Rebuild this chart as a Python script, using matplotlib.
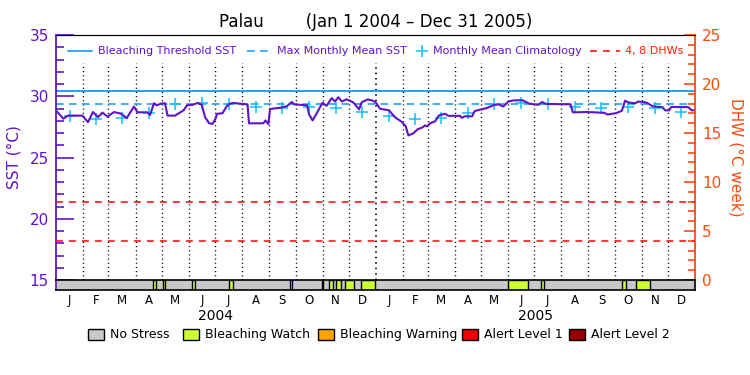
import matplotlib
matplotlib.use('Agg')
import matplotlib.pyplot as plt
import numpy as np
from matplotlib.ticker import MultipleLocator
from matplotlib.lines import Line2D
from matplotlib.patches import Rectangle

# ---------------- data ----------------
# SST trace: day offset from 2004-01-01, SST (deg C)
sst_day = [0.8, 8.4, 13.7, 30.3, 36.6, 42.3, 48.1, 53.2, 58.9, 66.4, 74.4, 80.9, 89.2, 93.2,
           104.7, 107.6, 112.1, 115.2, 120.1, 124.7, 127.6, 136.2, 145.9, 149.9, 156.2, 161.9,
           166.7, 170.5, 175.1, 179.1, 182.5, 184.2, 190.5, 195.3, 199.1, 202.9, 219.1, 220.8,
           237.2, 239.7, 242.9, 244.9, 256.3, 264.0, 269.7, 272.3, 287.2, 289.5, 293.5, 296.3,
           304.9, 309.5, 315.4, 319.2, 323.0, 326.9, 332.3, 335.2, 340.2, 346.7, 349.8, 356.4,
           362.1, 366.1, 370.7, 381.0, 387.9, 394.7, 399.9, 403.1, 408.8, 413.6, 419.3, 422.2,
           424.5, 427.9, 433.6, 438.2, 445.1, 448.9, 462.2, 464.2, 467.4, 476.0, 478.8, 481.7,
           487.1, 493.7, 500.3, 506.1, 511.8, 517.5, 524.0, 533.8, 541.2, 551.8, 556.1, 560.6,
           588.7, 591.2, 608.1, 627.0, 631.0, 640.7, 647.3, 651.0, 654.8, 662.5, 666.3, 674.0,
           676.9, 682.6, 694.0, 696.8, 701.4, 703.7, 719.7, 723.5, 727.3, 731.0]
sst_val = [28.77, 28.17, 28.42, 28.42, 27.89, 28.71, 28.30, 28.66, 28.34, 28.71, 28.58, 28.22,
           29.16, 28.69, 28.69, 28.47, 29.43, 29.26, 29.40, 29.43, 28.42, 28.42, 28.85, 29.26,
           29.30, 29.45, 29.30, 28.30, 27.79, 27.75, 28.17, 28.57, 28.61, 29.18, 29.40, 29.45,
           29.34, 27.79, 27.79, 28.03, 27.73, 28.96, 29.06, 29.18, 29.53, 29.34, 29.26, 28.52,
           28.03, 28.36, 29.47, 29.22, 29.85, 29.57, 29.92, 29.57, 29.75, 29.67, 29.49, 28.93,
           29.51, 29.74, 29.65, 29.47, 28.98, 28.85, 28.28, 27.95, 27.58, 26.80, 26.97, 27.30,
           27.46, 27.62, 27.54, 27.79, 27.95, 28.44, 28.57, 28.40, 28.40, 28.24, 28.36, 28.36,
           28.77, 28.85, 28.93, 29.06, 29.26, 29.34, 29.16, 29.57, 29.67, 29.67, 29.40, 29.30,
           29.53, 29.37, 29.34, 28.69, 28.71, 28.65, 28.51, 28.62, 28.81, 29.64, 29.49, 29.43,
           29.57, 29.51, 29.43, 29.18, 29.10, 28.85, 28.85, 29.12, 29.12, 29.10, 28.85, 28.85]

# monthly mean climatology (Jan..Dec)
clim_vals = [28.36, 28.11, 28.24, 28.66, 29.34, 29.43, 29.34, 29.10, 29.06, 29.14, 29.02, 28.71]
threshold_sst = 30.45
mmm_sst = 29.4
dhw_levels = [4, 8]

month_labels = ['J', 'F', 'M', 'A', 'M', 'J', 'J', 'A', 'S', 'O', 'N', 'D']
years = ['2004', '2005']

# Bleaching watch periods (day offsets)
watch_start = [111, 122, 156, 198, 268, 304, 312, 320, 331, 349, 517, 555, 648, 663]
watch_end = [114, 125, 159, 202, 270, 306, 317, 326, 341, 365, 540, 558, 652, 680]

stress_labels = ['No Stress', 'Bleaching Watch', 'Bleaching Warning', 'Alert Level 1', 'Alert Level 2']
stress_colors = ['#c8c8c8', '#ccff33', '#ffa500', '#ee0000', '#990000']

# ---------------- styles ----------------
PURPLE = '#5f14c8'
ORANGE = '#ff4a10'
THR_C = '#0a9aff'
CLIM_C = '#10c0ff'

month_starts = (np.arange('2004-01', '2006-02', dtype='datetime64[M]').astype('datetime64[D]')
                - np.datetime64('2004-01-01')).astype(int)
month_mid = (month_starts[:-1] + month_starts[1:]) / 2.0
total_days = month_starts[-1]

fig = plt.figure(figsize=(7.5, 3.75), dpi=100)
W, H = 750.0, 375.0
L, R, T, B = 56, 695, 35, 280
ax = fig.add_axes([L / W, 1 - B / H, (R - L) / W, (B - T) / H])
ax.set_xlim(0, total_days)
ax.set_ylim(15, 35)

# dotted month separators
for d in month_starts[1:-1]:
    lw = 1.3 if d == 366 else 1.0
    ax.plot([d, d], [15, 32.7], color='black', lw=lw, ls=(0, (0.8, 2.2)), zorder=1)

ax.axhline(threshold_sst, color=THR_C, lw=1.3, zorder=2)
ax.axhline(mmm_sst, color=THR_C, lw=1.1, ls=(0, (5, 3.5)), zorder=2)
ax.plot(month_mid, clim_vals * 2, ls='none', marker='+', ms=9, mew=1.1, color=CLIM_C, zorder=3)
ax.plot(sst_day, sst_val, color=PURPLE, lw=1.5, zorder=4)

ax.set_xticks([])
ax.yaxis.set_major_locator(MultipleLocator(5))
ax.yaxis.set_minor_locator(MultipleLocator(1))
ax.tick_params(axis='y', which='major', direction='in', length=13, width=1.2, color=PURPLE,
               labelcolor=PURPLE, labelsize=11, pad=5)
ax.tick_params(axis='y', which='minor', direction='in', length=6, width=1.2, color=PURPLE)
ax.spines['left'].set_color(PURPLE)
ax.spines['left'].set_linewidth(1.3)
ax.spines['right'].set_visible(False)
ax.spines['bottom'].set_visible(False)
ax.spines['top'].set_color('black')
ax.set_ylabel('SST (°C)', color=PURPLE, fontsize=11, labelpad=6)

ax2 = ax.twinx()
ax2.set_ylim(0, 25)
for lv in dhw_levels:
    ax2.axhline(lv, color='#ff0000', lw=1.1, ls=(0, (4.5, 4)), zorder=2)
ax2.yaxis.set_major_locator(MultipleLocator(5))
ax2.yaxis.set_minor_locator(MultipleLocator(1))
ax2.tick_params(axis='y', which='major', direction='in', length=8, width=1.2, color=ORANGE,
                labelcolor=ORANGE, labelsize=11, pad=5)
ax2.tick_params(axis='y', which='minor', direction='in', length=5, width=1.2, color=ORANGE)
ax2.spines['right'].set_color(ORANGE)
ax2.spines['right'].set_linewidth(1.3)
ax2.spines['left'].set_visible(False)
ax2.spines['bottom'].set_visible(False)
ax2.spines['top'].set_color('black')
ax2.set_ylabel('DHW (°C week)', color=ORANGE, fontsize=11, rotation=-90, labelpad=16)

ax.set_title('Palau        (Jan 1 2004 \u2013 Dec 31 2005)', fontsize=12, pad=6)

# stress bar
bx = fig.add_axes([L / W, 1 - 290 / H, (R - L) / W, 10 / H])
bx.set_xlim(0, total_days)
bx.set_ylim(0, 1)
bx.set_facecolor(stress_colors[0])
bx.bar(watch_start, height=1, width=np.array(watch_end) - np.array(watch_start), bottom=0,
       align='edge', color=stress_colors[1], edgecolor='black', lw=1.0)
bx.set_yticks([])
bx.set_xticks(month_mid)
bx.set_xticklabels(month_labels * 2, fontsize=8.5)
bx.tick_params(axis='x', length=0, pad=3)
for s in bx.spines.values():
    s.set_linewidth(1.2)
bx.spines['left'].set_color(PURPLE)

for i, yl in enumerate(years):
    xc = (month_starts[12 * i] + month_starts[12 * i + 12]) / 2.0
    xf = (L + xc / total_days * (R - L)) / W
    fig.text(xf, 1 - 316 / H, yl, ha='center', va='center', fontsize=10)

# top legend
ly = 1 - 51 / H
fig.add_artist(Line2D([68 / W, 92 / W], [ly, ly], color=THR_C, lw=1.2))
fig.text(98 / W, ly, 'Bleaching Threshold SST', color=PURPLE, fontsize=8, va='center')
fig.add_artist(Line2D([247 / W, 272 / W], [ly, ly], color=THR_C, lw=1.1, ls=(0, (5, 3.5))))
fig.text(277 / W, ly, 'Max Monthly Mean SST', color=PURPLE, fontsize=8, va='center')
fig.add_artist(Line2D([422 / W], [ly], color=CLIM_C, marker='+', ms=8, mew=1.1, ls='none'))
fig.text(433 / W, ly, 'Monthly Mean Climatology', color=PURPLE, fontsize=8, va='center')
fig.add_artist(Line2D([590 / W, 620 / W], [ly, ly], color='#ff0000', lw=1.1, ls=(0, (4.5, 4))))
fig.text(625 / W, ly, '4, 8 DHWs', color='#ff2000', fontsize=8, va='center')

# bottom legend
box_x = [88, 183, 318, 462, 569]
for bxp, lab, col in zip(box_x, stress_labels, stress_colors):
    fig.add_artist(Rectangle((bxp / W, 1 - 340 / H), 15.5 / W, 11 / H, facecolor=col,
                             edgecolor='black', lw=1.0, transform=fig.transFigure))
    fig.text((bxp + 22) / W, 1 - 334.5 / H, lab, fontsize=9, va='center')

fig.savefig('out.png', dpi=100)
